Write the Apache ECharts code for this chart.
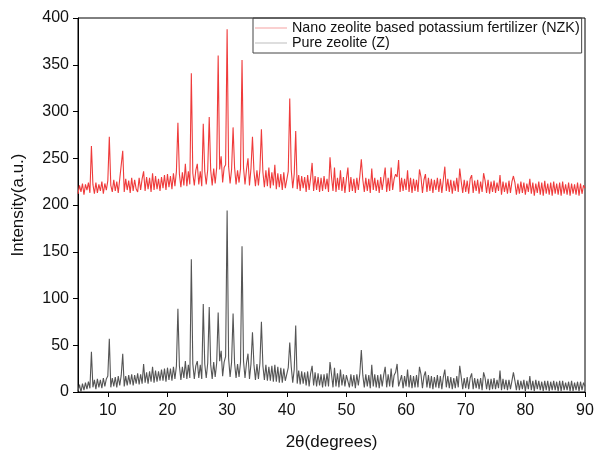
<!DOCTYPE html>
<html>
<head>
<meta charset="utf-8">
<script src="https://cdn.jsdelivr.net/npm/echarts@6/dist/echarts.min.js"></script>
<style>
  html, body { margin: 0; padding: 0; background: #fff; }
  #main { width: 594px; height: 452px; }
</style>
</head>
<body>
<div id="main"></div>
<script>
  // 2θ 샘플 간격 (5 ~ 90, 0.25 step)
  var thetaStart = 5;
  var thetaStep = 0.25;
  var xTicks = [10, 20, 30, 40, 50, 60, 70, 80, 90];
  var seriesNames = ['Nano zeolite based potassium fertilizer (NZK)', 'Pure zeolite (Z)'];

  // NZK intensity, one row per degree (d, d.25, d.5, d.75)
  var nzkValues = [
    212, 221, 214, 223,   // 5
    211, 222, 216, 224,
    213, 263, 222, 212,
    224, 213, 222, 215,
    225, 212, 223, 216,
    226, 273, 221, 214,   // 10
    227, 215, 225, 213,
    228, 230, 258, 214,
    228, 216, 226, 213,
    229, 215, 227, 217,
    214, 229, 216, 228,   // 15
    236, 215, 230, 217,
    229, 214, 234, 216,
    231, 217, 228, 215,
    230, 218, 232, 216,
    233, 219, 231, 217,   // 20
    234, 220, 236, 288,
    233, 219, 235, 221,
    244, 220, 236, 222,
    341, 234, 221, 237,
    244, 222, 236, 220,   // 25
    287, 236, 222, 238,
    294, 237, 221, 239,
    223, 240, 360, 238,
    252, 224, 240, 243,
    388, 241, 223, 238,   // 30
    283, 240, 222, 237,
    224, 239, 355, 240,
    222, 238, 250, 221,
    239, 273, 236, 220,
    237, 221, 238, 281,   // 35
    235, 219, 237, 220,
    240, 218, 235, 221,
    243, 217, 234, 219,
    233, 216, 235, 218,
    219, 236, 314, 238,   // 40
    218, 233, 279, 217,
    232, 215, 231, 218,
    230, 214, 232, 216,
    229, 245, 215, 231,
    216, 230, 214, 229,   // 45
    215, 231, 217, 228,
    214, 251, 230, 215,
    240, 214, 229, 216,
    237, 215, 230, 213,
    228, 240, 214, 230,   // 50
    215, 228, 213, 229,
    216, 231, 249, 227,
    214, 229, 215, 228,
    213, 239, 216, 229,
    215, 227, 213, 230,   // 55
    216, 228, 240, 214,
    229, 215, 240, 216,
    228, 233, 230, 248,
    214, 229, 215, 228,
    216, 237, 214, 229,   // 60
    213, 228, 215, 227,
    214, 238, 230, 213,
    227, 233, 214, 229,
    215, 228, 213, 227,
    216, 229, 214, 228,   // 65
    213, 227, 241, 215,
    228, 214, 227, 212,
    226, 215, 229, 214,
    239, 225, 213, 227,
    214, 226, 212, 228,   // 70
    232, 213, 226, 215,
    227, 212, 225, 214,
    234, 226, 213, 227,
    212, 225, 214, 226,
    213, 224, 215, 232,   // 75
    211, 225, 214, 224,
    212, 226, 213, 225,
    231, 224, 211, 223,
    212, 225, 213, 224,
    211, 223, 214, 228,   // 80
    212, 224, 210, 223,
    213, 225, 211, 224,
    210, 226, 212, 223,
    211, 224, 210, 225,
    212, 223, 211, 224,   // 85
    210, 225, 212, 222,
    211, 224, 210, 223,
    212, 222, 211, 224,
    210, 223, 212, 221,
    218                   // 90
  ];

  // Pure zeolite intensity
  var zValues = [
    1, 8, 0, 9,       // 5
    2, 10, 3, 11,
    4, 43, 5, 13,
    3, 14, 5, 13,
    4, 15, 6, 14,
    17, 57, 5, 15,    // 10
    6, 16, 5, 17,
    7, 18, 41, 6,
    17, 7, 18, 8,
    19, 7, 18, 9,
    20, 8, 19, 9,     // 15
    30, 10, 21, 9,
    22, 11, 27, 10,
    23, 11, 22, 12,
    24, 12, 25, 11,
    26, 13, 25, 12,   // 20
    27, 14, 28, 89,
    28, 13, 27, 15,
    33, 14, 29, 15,
    142, 30, 14, 28,
    33, 15, 29, 14,   // 25
    94, 30, 15, 31,
    91, 29, 14, 32,
    16, 31, 85, 33,
    44, 17, 32, 38,
    194, 36, 16, 32,  // 30
    84, 31, 15, 30,
    16, 32, 156, 33,
    15, 31, 41, 14,
    30, 64, 29, 13,
    30, 14, 31, 75,   // 35
    28, 13, 29, 12,
    27, 12, 28, 11,
    29, 11, 27, 10,
    26, 10, 25, 12,
    11, 26, 53, 27,   // 40
    10, 24, 71, 9,
    23, 8, 22, 9,
    21, 7, 22, 6,
    20, 28, 7, 21,
    6, 20, 7, 19,     // 45
    5, 19, 6, 20,
    6, 32, 19, 5,
    26, 6, 20, 5,
    24, 7, 19, 6,
    18, 20, 5, 19,    // 50
    6, 18, 4, 19,
    7, 20, 45, 18,
    5, 19, 6, 18,
    4, 29, 6, 19,
    5, 18, 4, 19,     // 55
    6, 18, 27, 5,
    19, 6, 25, 5,
    18, 21, 30, 6,
    5, 18, 4, 17,
    6, 24, 5, 18,     // 60
    4, 17, 5, 18,
    5, 27, 19, 4,
    17, 22, 5, 18,
    4, 17, 3, 16,
    5, 18, 4, 17,     // 65
    3, 16, 24, 5,
    17, 4, 16, 3,
    15, 4, 17, 5,
    28, 16, 3, 15,
    4, 16, 3, 15,     // 70
    20, 3, 15, 4,
    14, 3, 15, 2,
    21, 15, 3, 14,
    2, 14, 3, 15,
    3, 13, 4, 23,     // 75
    2, 14, 3, 13,
    2, 13, 3, 12,
    21, 12, 2, 13,
    2, 12, 3, 13,
    1, 12, 3, 17,     // 80
    2, 12, 1, 13,
    3, 12, 2, 11,
    1, 12, 2, 12,
    1, 11, 2, 12,
    2, 11, 1, 12,     // 85
    1, 12, 2, 10,
    2, 11, 1, 12,
    1, 10, 2, 11,
    1, 11, 2, 10,
    6                 // 90
  ];

  function toPairs(vals) {
    var out = [];
    for (var i = 0; i < vals.length; i++) {
      out.push([thetaStart + i * thetaStep, vals[i]]);
    }
    return out;
  }

  var myChart = echarts.init(document.getElementById('main'), null, { renderer: 'canvas' });
  var font = 'Liberation Sans, Arial, sans-serif';
  var option = {
    animation: false,
    grid: {
      left: 78, right: 9, top: 18, bottom: 60,
      outerBoundsMode: 'none',
      containLabel: false,
      show: true, borderColor: '#000', borderWidth: 1
    },
    legend: {
      orient: 'vertical',
      left: 253, top: 18,
      padding: [3, 2, 3, 2],
      itemGap: 1,
      icon: 'rect',
      itemWidth: 32, itemHeight: 1,
      borderColor: '#444', borderWidth: 1,
      textStyle: { fontFamily: font, fontSize: 14.3, color: '#111' },
      data: [
        { name: seriesNames[0], itemStyle: { color: '#f5a0a0' } },
        { name: seriesNames[1], itemStyle: { color: '#bdbdbd' } }
      ]
    },
    xAxis: {
      type: 'value',
      min: 5, max: 90,
      name: '2θ(degrees)',
      nameLocation: 'middle',
      nameGap: 42,
      nameTextStyle: { fontFamily: font, fontSize: 17, color: '#111' },
      axisLine: { lineStyle: { color: '#000', width: 1 } },
      axisTick: { inside: false, length: 5, lineStyle: { color: '#000' }, customValues: xTicks },
      axisLabel: { fontFamily: font, fontSize: 16, color: '#111', margin: 11, customValues: xTicks },
      splitLine: { show: false }
    },
    yAxis: {
      type: 'value',
      min: 0, max: 400, interval: 50,
      name: 'Intensity(a.u.)',
      nameLocation: 'middle',
      nameGap: 51,
      nameTextStyle: { fontFamily: font, fontSize: 17, color: '#111' },
      axisLine: { show: true, lineStyle: { color: '#000', width: 1 } },
      axisTick: { show: true, inside: false, length: 5, lineStyle: { color: '#000' } },
      axisLabel: { fontFamily: font, fontSize: 16, color: '#111', margin: 9 },
      splitLine: { show: false }
    },
    series: [{
      name: seriesNames[0],
      type: 'line',
      symbol: 'none',
      data: toPairs(nzkValues),
      lineStyle: { color: '#ef3b3b', width: 1.1 },
      itemStyle: { color: '#ef3b3b' }
    }, {
      name: seriesNames[1],
      type: 'line',
      symbol: 'none',
      data: toPairs(zValues),
      lineStyle: { color: '#555555', width: 1.1 },
      itemStyle: { color: '#555555' }
    }]
  };
  myChart.setOption(option);
</script>
</body>
</html>
